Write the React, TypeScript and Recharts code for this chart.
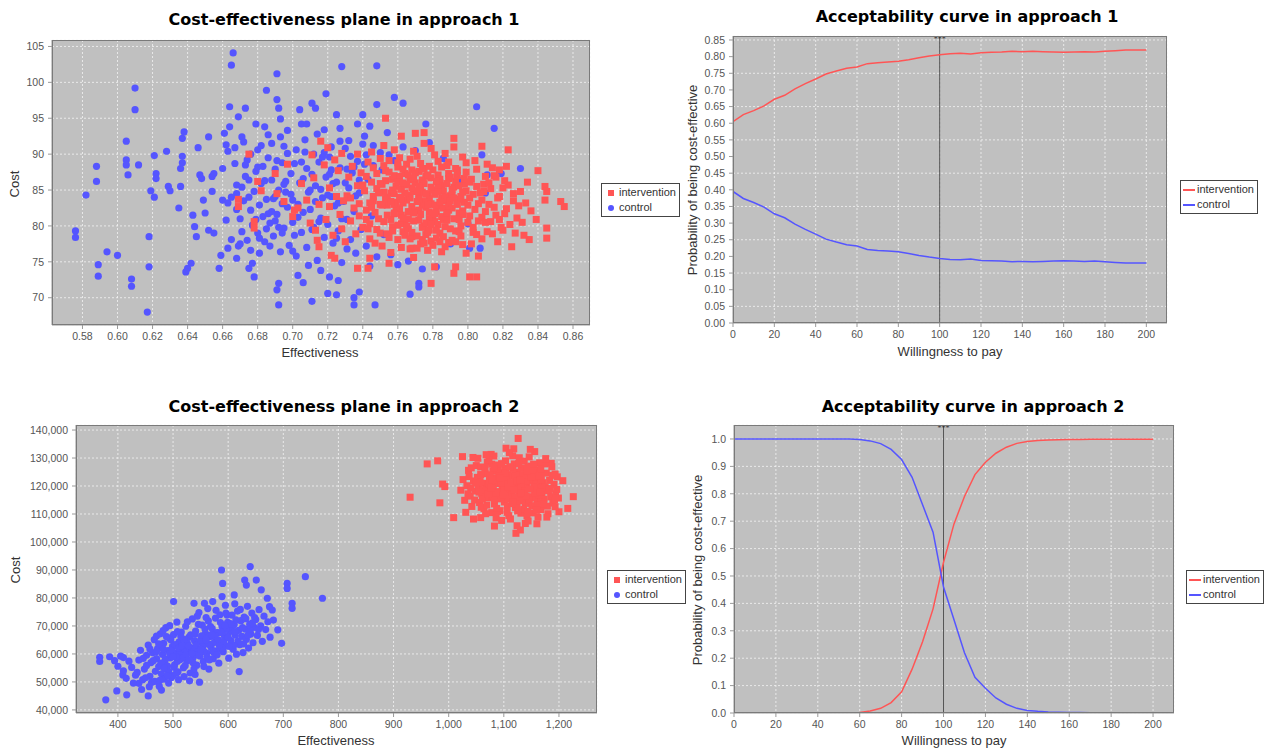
import React from 'react';
import { ScatterChart, Scatter, LineChart, Line, XAxis, YAxis, CartesianGrid, ReferenceLine } from 'recharts';

type Pt = [number, number];

const RED = '#ff5555';
const BLUE = '#5555ff';
const PLOT_BG = '#c0c0c0';
const TICK_FONT = '"Liberation Sans", Arial, sans-serif';
const TITLE_FONT = '"DejaVu Sans", Verdana, sans-serif';

// --- approach 1: cost-effectiveness plane (effectiveness, cost) ---
const plane1Control: Pt[] = [
  [0.576, 79.3], [0.576, 78.4], [0.582, 84.3], [0.588, 88.3], [0.588, 86.2], [0.589, 74.6], [0.589, 73.0], [0.594, 76.4],
  [0.600, 75.9], [0.605, 91.8], [0.605, 89.2], [0.605, 88.5], [0.606, 87.1], [0.610, 99.2], [0.610, 96.2], [0.612, 88.5],
  [0.608, 72.6], [0.608, 71.6], [0.618, 78.5], [0.618, 74.3], [0.617, 68.0], [0.619, 84.9], [0.621, 84.0], [0.621, 89.8],
  [0.622, 87.3], [0.622, 86.6], [0.628, 90.4], [0.629, 85.5], [0.630, 84.9], [0.635, 82.5], [0.636, 85.5], [0.636, 88.0],
  [0.637, 88.8], [0.637, 89.7], [0.637, 92.2], [0.638, 93.1], [0.640, 74.1], [0.642, 74.8], [0.639, 73.6], [0.643, 81.5],
  [0.644, 79.9], [0.645, 78.5], [0.646, 90.9], [0.647, 87.1], [0.648, 86.6], [0.649, 83.6], [0.650, 81.8], [0.652, 92.4],
  [0.652, 79.4], [0.654, 84.8], [0.654, 86.9], [0.655, 87.3], [0.655, 79.0], [0.658, 74.1], [0.659, 75.9], [0.660, 83.6],
  [0.661, 92.9], [0.662, 91.3], [0.663, 90.4], [0.663, 83.2], [0.663, 76.9], [0.664, 96.6], [0.666, 104.1], [0.665, 102.4],
  [0.664, 93.8], [0.667, 88.7], [0.668, 85.7], [0.668, 84.5], [0.668, 75.5], [0.669, 95.2], [0.673, 96.4], [0.671, 92.4],
  [0.674, 89.2], [0.675, 86.4], [0.675, 74.1], [0.677, 74.8], [0.678, 72.9], [0.679, 94.2], [0.681, 76.2], [0.684, 93.8],
  [0.685, 98.9], [0.686, 92.7], [0.688, 86.4], [0.690, 84.1], [0.691, 101.2], [0.691, 97.6], [0.692, 96.4], [0.693, 94.9],
  [0.692, 72.0], [0.692, 69.0], [0.691, 71.1], [0.693, 92.4], [0.695, 91.1], [0.697, 90.1], [0.704, 96.2], [0.705, 94.2],
  [0.708, 94.2], [0.706, 72.1], [0.711, 97.1], [0.713, 96.4], [0.711, 69.5], [0.718, 93.4], [0.719, 98.4], [0.720, 70.6],
  [0.721, 72.9], [0.725, 95.5], [0.725, 70.4], [0.726, 72.4], [0.728, 102.2], [0.727, 91.8], [0.735, 69.0], [0.735, 70.0],
  [0.738, 70.8], [0.737, 94.2], [0.740, 95.5], [0.741, 92.5], [0.744, 93.9], [0.748, 102.3], [0.748, 96.9], [0.747, 69.0],
  [0.758, 97.9], [0.763, 97.1], [0.767, 70.5], [0.772, 72.0], [0.772, 71.5], [0.776, 94.2], [0.805, 96.6], [0.815, 93.6],
  [0.808, 89.9], [0.811, 87.1], [0.810, 84.6], [0.819, 87.3], [0.830, 88.0], [0.801, 76.9], [0.807, 76.9],
  [0.670, 81.0], [0.671, 79.2], [0.672, 83.5], [0.673, 86.9], [0.674, 78.0], [0.676, 82.2], [0.677, 80.1], [0.678, 84.8],
  [0.679, 87.6], [0.680, 79.0], [0.681, 82.9], [0.682, 85.9], [0.683, 81.3], [0.684, 77.8], [0.685, 83.7], [0.686, 89.5],
  [0.687, 80.4], [0.688, 82.0], [0.689, 78.6], [0.690, 87.9], [0.691, 81.6], [0.692, 85.0], [0.693, 76.4], [0.694, 83.1],
  [0.695, 79.7], [0.696, 86.2], [0.697, 82.6], [0.698, 77.3], [0.699, 84.4], [0.700, 80.5], [0.701, 88.7], [0.702, 75.8],
  [0.703, 83.0], [0.704, 86.0], [0.705, 79.1], [0.706, 81.9], [0.707, 90.3], [0.708, 77.0], [0.709, 84.7], [0.710, 82.3],
  [0.711, 87.2], [0.712, 79.8], [0.713, 85.6], [0.714, 75.2], [0.715, 88.9], [0.716, 81.1], [0.717, 83.9], [0.718, 78.4],
  [0.719, 86.8], [0.720, 80.2], [0.721, 89.6], [0.722, 84.1], [0.723, 77.6], [0.724, 82.8], [0.725, 86.1], [0.726, 79.3],
  [0.727, 88.1], [0.728, 74.9], [0.729, 83.4], [0.730, 90.8], [0.731, 80.9], [0.732, 85.3], [0.733, 78.1], [0.734, 87.4],
  [0.735, 82.0], [0.736, 76.2], [0.737, 89.0], [0.738, 84.6], [0.739, 79.5], [0.740, 91.4], [0.742, 77.2], [0.743, 86.5],
  [0.745, 81.4], [0.746, 88.4], [0.748, 75.7], [0.750, 90.2], [0.752, 78.8], [0.754, 93.0], [0.756, 76.0], [0.758, 89.1],
  [0.760, 74.6], [0.763, 91.0], [0.766, 75.1], [0.770, 90.5], [0.774, 74.0], [0.778, 91.6], [0.782, 74.3], [0.786, 89.4],
  [0.790, 77.5], [0.795, 86.3], [0.800, 80.3], [0.660, 88.0], [0.662, 80.8], [0.665, 78.1], [0.667, 90.9], [0.669, 77.2],
  [0.672, 91.7], [0.676, 76.6], [0.680, 90.6], [0.683, 88.3], [0.688, 91.5], [0.694, 88.8], [0.700, 76.5], [0.703, 73.1],
  [0.709, 74.5], [0.714, 92.8], [0.716, 73.8], [0.722, 91.0], [0.731, 76.8], [0.744, 74.4],
  [0.668, 82.3], [0.673, 88.5], [0.679, 80.9], [0.684, 86.3], [0.689, 83.8], [0.694, 79.0], [0.699, 87.3], [0.703, 81.2],
  [0.708, 88.0], [0.713, 83.4], [0.718, 90.2], [0.723, 85.9], [0.728, 81.0], [0.733, 89.7], [0.738, 86.4], [0.671, 85.4],
  [0.676, 90.0], [0.681, 78.3], [0.686, 81.7], [0.691, 89.1], [0.696, 84.7], [0.701, 78.7], [0.706, 86.6], [0.711, 79.5],
  [0.716, 85.1], [0.721, 87.2], [0.726, 83.2], [0.731, 87.9], [0.736, 84.2], [0.741, 88.6], [0.665, 84.0], [0.670, 77.5],
  [0.675, 84.0], [0.680, 88.2], [0.685, 79.6], [0.690, 80.7], [0.695, 85.8], [0.700, 83.6], [0.705, 88.9], [0.710, 85.0],
  [0.715, 80.6], [0.720, 84.3], [0.725, 78.3], [0.730, 86.0], [0.735, 88.2], [0.687, 77.2], [0.697, 93.3], [0.707, 92.0],
  [0.717, 89.6], [0.727, 93.6], [0.682, 91.2], [0.692, 79.8], [0.702, 90.6], [0.712, 90.0], [0.722, 87.8], [0.732, 91.9],
  [0.742, 89.9], [0.746, 91.2], [0.751, 87.8], [0.755, 89.9],
];

const plane1Intervention: Pt[] = [
  [0.675, 90.0], [0.669, 83.7], [0.669, 82.7], [0.680, 86.2], [0.682, 84.9], [0.678, 80.6], [0.678, 79.7], [0.690, 87.3],
  [0.691, 84.5], [0.697, 88.6], [0.695, 83.4], [0.701, 82.2], [0.703, 82.5], [0.700, 81.3], [0.708, 83.6], [0.711, 89.9],
  [0.713, 79.4], [0.716, 91.8], [0.714, 78.0], [0.715, 77.1], [0.720, 90.9], [0.721, 82.7], [0.722, 75.9], [0.724, 75.5],
  [0.728, 90.1], [0.737, 90.0], [0.737, 74.1], [0.743, 74.1], [0.744, 75.5], [0.753, 95.0], [0.755, 74.8], [0.762, 92.5],
  [0.758, 90.6], [0.770, 92.9], [0.775, 93.0], [0.768, 76.9], [0.769, 75.6], [0.779, 72.0], [0.781, 74.3], [0.792, 92.2],
  [0.792, 73.4], [0.793, 74.3], [0.801, 72.9], [0.805, 72.9], [0.806, 75.8], [0.808, 91.1], [0.823, 90.6], [0.822, 88.3],
  [0.818, 87.8], [0.826, 84.5], [0.830, 84.8], [0.840, 87.7], [0.844, 85.5], [0.845, 84.8], [0.844, 83.6], [0.845, 79.7],
  [0.845, 78.3], [0.835, 78.1], [0.832, 78.7], [0.825, 77.1], [0.853, 83.4], [0.855, 82.7], [0.839, 80.9], [0.836, 82.1],
  [0.813, 80.6], [0.820, 79.4],
  [0.731, 84.2], [0.732, 86.8], [0.733, 80.7], [0.734, 88.3], [0.735, 82.5], [0.736, 78.9], [0.737, 85.6], [0.738, 83.1],
  [0.739, 87.4], [0.740, 79.8], [0.733, 83.9], [0.738, 81.4],
  [0.741, 84.9], [0.742, 82.2], [0.743, 88.9], [0.744, 80.3], [0.745, 86.1], [0.746, 83.5], [0.747, 77.6], [0.748, 85.2],
  [0.749, 81.0], [0.750, 89.4], [0.742, 86.9], [0.744, 78.2], [0.746, 84.1], [0.748, 79.5], [0.750, 83.0], [0.745, 90.3],
  [0.751, 85.8], [0.752, 80.6], [0.753, 87.7], [0.754, 82.9], [0.755, 78.4], [0.756, 84.6], [0.757, 86.5], [0.758, 81.7],
  [0.759, 83.3], [0.760, 88.2], [0.751, 77.2], [0.753, 83.8], [0.755, 89.1], [0.757, 79.9], [0.759, 85.5], [0.752, 91.2],
  [0.756, 76.3], [0.758, 87.0], [0.760, 80.1], [0.754, 84.0],
  [0.761, 82.4], [0.762, 85.1], [0.763, 79.2], [0.764, 87.3], [0.765, 83.6], [0.766, 81.0], [0.767, 86.4], [0.768, 78.5],
  [0.769, 84.8], [0.770, 82.1], [0.761, 89.5], [0.762, 77.0], [0.763, 83.2], [0.764, 80.4], [0.765, 88.6], [0.766, 84.3],
  [0.767, 76.8], [0.768, 82.7], [0.769, 90.4], [0.770, 86.0], [0.762, 81.5], [0.764, 85.7], [0.766, 79.6], [0.768, 87.8],
  [0.771, 83.4], [0.772, 80.8], [0.773, 85.3], [0.774, 78.1], [0.775, 88.0], [0.776, 82.6], [0.777, 84.5], [0.778, 79.4],
  [0.779, 86.7], [0.780, 81.2], [0.771, 89.7], [0.772, 84.1], [0.773, 77.5], [0.774, 82.9], [0.775, 80.0], [0.776, 86.9],
  [0.777, 76.6], [0.778, 83.8], [0.779, 90.8], [0.780, 85.0], [0.772, 87.6], [0.774, 84.7], [0.776, 78.8], [0.778, 81.9],
  [0.775, 91.5], [0.779, 77.9],
  [0.781, 84.4], [0.782, 82.0], [0.783, 87.1], [0.784, 79.0], [0.785, 85.6], [0.786, 80.9], [0.787, 83.5], [0.788, 88.4],
  [0.789, 77.7], [0.790, 84.2], [0.781, 89.9], [0.782, 78.3], [0.783, 82.8], [0.784, 86.0], [0.785, 76.4], [0.786, 84.9],
  [0.787, 90.1], [0.788, 81.4], [0.789, 83.0], [0.790, 79.6], [0.783, 80.2], [0.785, 83.9], [0.787, 77.1], [0.789, 86.6],
  [0.791, 82.5], [0.792, 85.4], [0.793, 79.3], [0.794, 87.8], [0.795, 81.8], [0.796, 84.1], [0.797, 77.4], [0.798, 83.3],
  [0.799, 88.8], [0.800, 80.5], [0.791, 78.0], [0.793, 86.2], [0.795, 83.7], [0.797, 89.6], [0.799, 76.2], [0.792, 91.0],
  [0.796, 80.0], [0.798, 85.9],
  [0.801, 83.9], [0.802, 86.5], [0.803, 79.1], [0.804, 82.3], [0.805, 87.9], [0.806, 80.7], [0.807, 84.6], [0.808, 78.2],
  [0.809, 85.8], [0.810, 82.0], [0.802, 77.5], [0.804, 89.1], [0.806, 83.1], [0.808, 81.2], [0.810, 86.9],
  [0.812, 83.0], [0.813, 85.2], [0.814, 78.9], [0.815, 87.0], [0.816, 81.5], [0.818, 84.1], [0.819, 79.8], [0.821, 86.3],
  [0.822, 82.4], [0.824, 80.2], [0.826, 83.5], [0.828, 81.1], [0.811, 88.6], [0.817, 77.8], [0.823, 85.7], [0.827, 79.0],
  [0.829, 82.8], [0.831, 80.5], [0.833, 83.2], [0.834, 86.1],
  [0.705, 85.9], [0.710, 80.4], [0.712, 86.7], [0.715, 83.0], [0.718, 88.5], [0.719, 80.9], [0.721, 85.3], [0.723, 78.7],
  [0.725, 84.1], [0.726, 87.7], [0.727, 81.6], [0.729, 83.5], [0.730, 77.8], [0.724, 89.2], [0.728, 79.6],
  [0.747, 81.9], [0.761, 86.9], [0.783, 84.8], [0.795, 79.2], [0.772, 82.2], [0.756, 80.9], [0.789, 87.3], [0.768, 85.3],
  [0.779, 83.1], [0.801, 81.4], [0.752, 84.7], [0.764, 78.7], [0.786, 82.5], [0.774, 86.4], [0.791, 84.3], [0.759, 82.6],
  [0.781, 80.6], [0.798, 86.6], [0.767, 83.9], [0.744, 83.2], [0.777, 79.1], [0.788, 85.9], [0.763, 87.9], [0.750, 79.0],
  [0.794, 83.0], [0.771, 84.9], [0.784, 77.8], [0.757, 85.0], [0.803, 84.4], [0.769, 80.7], [0.780, 87.8], [0.792, 81.0],
  [0.748, 87.3], [0.775, 83.4], [0.762, 83.7], [0.787, 79.9], [0.754, 81.5], [0.797, 82.1], [0.773, 88.7], [0.783, 85.7],
  [0.766, 82.0], [0.790, 86.8], [0.778, 81.0], [0.760, 78.1], [0.805, 85.5], [0.771, 78.6], [0.785, 88.2], [0.753, 86.3],
  [0.796, 78.6], [0.765, 85.8], [0.776, 84.4], [0.781, 82.9], [0.742, 80.9], [0.799, 84.9], [0.770, 87.4], [0.758, 83.0],
  [0.788, 80.8], [0.774, 79.8], [0.793, 88.0], [0.762, 80.3], [0.779, 85.4], [0.749, 84.6], [0.786, 83.7], [0.767, 89.3],
  [0.800, 82.9], [0.755, 87.5], [0.782, 79.4], [0.773, 81.6], [0.791, 85.1], [0.764, 84.6], [0.777, 87.1], [0.745, 82.6],
  [0.795, 80.9], [0.769, 81.8], [0.784, 86.5], [0.757, 79.3], [0.803, 79.8], [0.775, 85.9], [0.760, 86.1], [0.789, 82.2],
  [0.751, 82.9], [0.780, 77.3], [0.766, 87.1], [0.797, 84.7], [0.772, 83.8], [0.785, 81.3], [0.758, 84.5], [0.794, 87.0],
  [0.763, 81.1], [0.778, 88.3], [0.740, 85.7], [0.808, 83.6], [0.771, 76.9], [0.787, 84.0], [0.754, 78.9], [0.799, 87.5],
  [0.765, 80.0], [0.782, 86.2], [0.746, 88.1], [0.793, 77.8], [0.810, 80.5], [0.776, 80.4], [0.761, 84.0], [0.790, 83.5],
  [0.768, 79.1], [0.784, 83.3], [0.750, 85.9], [0.801, 86.1], [0.774, 87.9], [0.758, 81.8], [0.786, 78.5], [0.769, 86.7],
  [0.795, 85.6], [0.781, 81.7], [0.763, 86.0], [0.777, 82.9], [0.743, 79.6], [0.805, 78.8], [0.772, 85.5], [0.789, 88.9],
  [0.756, 83.4], [0.797, 81.6], [0.767, 78.2], [0.783, 89.0], [0.752, 88.4], [0.779, 80.2], [0.792, 83.9], [0.760, 88.8],
  [0.775, 77.6], [0.788, 81.8], [0.812, 86.0], [0.815, 82.6], [0.818, 80.9], [0.809, 84.8], [0.814, 88.1], [0.817, 83.9],
  [0.820, 85.3], [0.821, 81.7], [0.811, 79.2], [0.816, 86.8],
];

// --- approach 2: cost-effectiveness plane ---
const plane2Control: Pt[] = [
  [367, 58800], [367, 57300], [378, 43600], [385, 59000], [394, 57600], [398, 46800], [409, 52500], [410, 58700],
  [416, 45400], [455, 45000], [479, 47100], [501, 78700], [588, 90000], [590, 85200], [640, 91200], [630, 86400],
  [633, 84600], [651, 86400], [660, 82900], [671, 79900], [675, 76900], [697, 63800], [707, 85200], [707, 83400],
  [716, 78100], [716, 76300], [740, 87600], [771, 79900], [620, 53700], [690, 68600], [682, 72100], [680, 75700],
  [572, 78700], [557, 78100], [538, 78100], [611, 81100], [589, 80500], [438, 49500], [457, 48300],
  [425, 55200], [432, 52400], [438, 57800], [441, 61300], [445, 50800], [448, 54600], [452, 59500], [455, 63200],
  [458, 52000], [460, 56900], [463, 60400], [466, 65100], [468, 53800], [470, 58300],
  [472, 61900], [474, 55500], [477, 67200], [479, 52900], [481, 59800], [483, 63800], [485, 57100], [487, 69400],
  [489, 54400], [491, 61200], [493, 65700], [495, 58600], [497, 51600], [499, 62700], [501, 66900], [503, 56200],
  [505, 60100], [507, 71400], [509, 53600], [511, 64300], [513, 58000], [515, 67800], [517, 61600], [519, 55100],
  [521, 63000], [523, 69900], [525, 57500], [527, 60700], [529, 66000], [531, 53200], [533, 62200], [535, 72500],
  [537, 58900], [539, 64700], [541, 68200], [543, 56000], [545, 61500], [547, 74800], [549, 59200], [551, 65400],
  [553, 70300], [555, 57300], [557, 63500], [559, 67300], [561, 60300], [563, 76200], [565, 54600], [567, 66100],
  [569, 62400],
  [571, 69100], [573, 58300], [575, 64100], [577, 72800], [579, 61100], [581, 67600], [583, 56700], [585, 74000],
  [587, 63700], [589, 69800], [591, 60800], [593, 66500], [595, 77400], [597, 62900], [599, 71300], [601, 58500],
  [603, 68000], [605, 64800], [607, 73900], [609, 61700], [611, 70500], [613, 66700], [615, 59900], [617, 75300],
  [619, 68400],
  [621, 63300], [623, 71900], [625, 66300], [627, 60500], [629, 73200], [631, 68900], [633, 65200], [635, 77000],
  [637, 62100], [639, 70600], [641, 67100], [643, 74600], [645, 64000], [647, 69500], [650, 72300], [653, 66600],
  [656, 75800], [659, 70000], [662, 64500], [665, 73500], [668, 68700], [672, 71500], [676, 66000],
  [400, 55600], [405, 59200], [410, 54000], [415, 51300], [420, 57400], [428, 49600], [435, 53400], [443, 47300],
  [450, 51500], [461, 49800], [467, 50200], [475, 48500], [484, 51000], [492, 49600], [500, 52300], [510, 50800],
  [520, 51900], [530, 50400], [540, 52700], [548, 49900],
  [486, 58100], [498, 61500], [512, 60300], [526, 63900], [538, 61800], [552, 66500], [566, 63400], [578, 67500],
  [592, 64600], [606, 69600], [490, 55700], [504, 63300], [518, 58700], [532, 66800], [544, 59800], [558, 68900],
  [572, 61000], [586, 71200], [600, 65900], [614, 72200], [494, 60000], [508, 57400], [522, 61100], [536, 56900],
  [548, 64400], [562, 58800], [576, 66300], [590, 62000], [604, 70800], [618, 64600], [482, 61800], [496, 65100],
  [510, 62100], [524, 59800], [540, 67000], [554, 62600], [568, 69800], [582, 65000], [596, 68800], [610, 63100],
  [478, 56700], [492, 53700], [506, 58900], [520, 65200], [534, 60100], [546, 70600], [560, 65000], [574, 60600],
  [588, 67700], [602, 62700], [470, 60900], [484, 54900], [502, 55200], [516, 62900], [530, 57900], [542, 63100],
  [556, 60900], [570, 66900], [584, 63000], [598, 73900], [612, 68000], [626, 69400], [632, 72600], [640, 68300],
  [648, 73000], [622, 75900], [628, 63600], [636, 66700], [644, 71100], [655, 68700], [464, 57600], [474, 63600],
  [488, 66200], [500, 59000], [514, 66400], [528, 62900], [550, 61600], [564, 71800], [580, 59700], [594, 70200],
  [452, 55900], [446, 58400], [458, 61800], [476, 50600], [490, 52200], [506, 53100], [522, 55800], [538, 54700],
  [556, 55500], [566, 57900], [470, 66400], [482, 68300], [494, 70100], [508, 68000], [526, 71500], [544, 73500],
  [560, 73000], [578, 75600], [596, 74600], [612, 77900],
];

const plane2Intervention: Pt[] = [
  [930, 116000], [961, 127900], [980, 129000], [984, 114000], [989, 120700], [993, 119800], [1009, 108700], [1045, 108200],
  [1058, 108700], [1083, 105700], [1122, 103100], [1130, 104300], [1126, 137000], [1104, 133500], [1156, 132300],
  [1174, 127900], [1207, 121900], [1193, 124300], [1226, 116200], [1216, 112000], [1200, 110800], [1193, 112600],
  [1178, 118600], [1025, 130500],
  [1022, 118500], [1026, 122300], [1029, 114900], [1033, 120100], [1036, 125600], [1039, 116400], [1042, 112700],
  [1045, 121800], [1048, 118200], [1050, 127300], [1031, 110600], [1044, 130200], [1047, 115000],
  [1052, 123100], [1054, 119500], [1056, 114100], [1058, 126800], [1060, 117300], [1062, 121000], [1064, 111900],
  [1066, 124400], [1068, 119000], [1070, 128600], [1072, 115800], [1074, 122500], [1076, 117700], [1078, 110500],
  [1080, 125300], [1053, 129900], [1059, 112400], [1065, 116000], [1071, 120500], [1077, 131300],
  [1081, 119800], [1083, 113600], [1085, 122900], [1087, 127500], [1089, 116800], [1091, 120900], [1093, 111200],
  [1095, 124700], [1097, 118400], [1099, 122000], [1101, 114300], [1103, 129000], [1105, 117100], [1107, 121500],
  [1109, 109400], [1082, 130700], [1086, 108600], [1090, 125800], [1094, 115400], [1098, 119900], [1102, 126300],
  [1106, 112900], [1108, 124000], [1100, 121100],
  [1111, 118100], [1113, 123600], [1115, 115900], [1117, 120700], [1119, 127900], [1121, 112300], [1123, 119400],
  [1125, 125000], [1127, 116600], [1129, 121900], [1131, 110300], [1133, 123200], [1135, 117800], [1137, 128900],
  [1139, 114000], [1112, 108200], [1116, 130800], [1120, 121300], [1124, 113100], [1128, 119100], [1132, 126400],
  [1136, 111700], [1138, 120300], [1114, 116700], [1126, 122700], [1134, 115200],
  [1141, 119600], [1143, 124200], [1145, 113800], [1147, 121700], [1149, 127100], [1151, 116200], [1153, 110400],
  [1155, 122400], [1157, 118800], [1159, 125700], [1161, 114600], [1163, 120200], [1165, 128300], [1167, 111600],
  [1169, 117500], [1142, 109300], [1146, 130400], [1150, 119000], [1154, 115700], [1158, 122900], [1162, 108900],
  [1166, 124700],
  [1171, 121200], [1173, 115300], [1175, 119700], [1177, 124600], [1179, 112800], [1181, 118300], [1183, 122000],
  [1185, 116100], [1187, 126900], [1189, 113900], [1191, 120600], [1194, 117200], [1197, 123300], [1199, 115700],
  [1063, 118700], [1088, 121600], [1112, 119300], [1137, 117000], [1158, 120800], [1075, 124000], [1097, 115900],
  [1121, 123800], [1146, 115100], [1168, 122300], [1069, 113200], [1092, 118000], [1116, 126000], [1141, 121900],
  [1163, 116900], [1057, 121600], [1080, 116500], [1104, 123100], [1128, 114700], [1152, 125200], [1066, 126300],
  [1089, 110900], [1113, 121200], [1138, 118200], [1160, 113100], [1074, 120700], [1096, 128000], [1120, 116100],
  [1144, 126700], [1170, 119300], [1061, 115500], [1085, 117600], [1108, 115400], [1132, 120900], [1156, 117400],
  [1078, 127800], [1101, 119000], [1125, 111100], [1149, 123300], [1172, 113700], [1055, 117800], [1079, 122000],
  [1103, 124600], [1127, 128000], [1151, 112900], [1067, 110100], [1091, 123700], [1115, 113700], [1140, 116300],
  [1164, 123600], [1083, 115000], [1107, 119700], [1131, 117500], [1155, 119600], [1071, 117100], [1095, 121200],
  [1119, 118700], [1143, 110900], [1167, 126200], [1087, 112000], [1111, 126900], [1135, 124100], [1159, 111300],
  [1077, 119200], [1099, 116800], [1123, 121800], [1147, 118900], [1058, 124100], [1082, 126300], [1106, 110600],
  [1130, 122300], [1154, 127800], [1073, 129400], [1093, 122700], [1117, 114400], [1142, 125400], [1165, 118000],
  [1049, 121000], [1040, 119300], [1037, 123400], [1041, 126500], [1035, 117200], [1184, 119100], [1188, 123800],
  [1192, 115000], [1180, 110100], [1186, 128100], [1196, 118800], [1176, 129800], [1178, 108900], [1118, 133300],
  [1110, 131900], [1148, 133100], [1096, 107700], [1139, 106600], [1124, 105800], [1160, 106500], [1068, 131200],
  [1128, 130100], [1144, 107500],
];

// --- acceptability curves (willingness to pay -> probability) ---
const wtp = [
  0, 5, 10, 15, 20, 25, 30, 35, 40, 45, 50, 55, 60, 65, 70, 75, 80, 85, 90, 95, 100,
  105, 110, 115, 120, 125, 130, 135, 140, 145, 150, 155, 160, 165, 170, 175, 180, 185, 190, 195, 200,
];
const accept1Intervention = [
  0.605, 0.626, 0.638, 0.652, 0.672, 0.684, 0.703, 0.719, 0.733, 0.748, 0.757, 0.765, 0.769, 0.779, 0.782, 0.784, 0.786,
  0.791, 0.797, 0.802, 0.806, 0.809, 0.810, 0.808, 0.812, 0.813, 0.814, 0.816, 0.815, 0.816, 0.815, 0.814, 0.813, 0.814,
  0.815, 0.814, 0.816, 0.818, 0.820, 0.820, 0.820,
];
const accept1Control = [
  0.395, 0.374, 0.362, 0.348, 0.328, 0.316, 0.297, 0.281, 0.267, 0.252, 0.243, 0.235, 0.231, 0.221, 0.218, 0.216, 0.214,
  0.209, 0.203, 0.198, 0.194, 0.191, 0.190, 0.192, 0.188, 0.187, 0.186, 0.184, 0.185, 0.184, 0.185, 0.186, 0.187, 0.186,
  0.185, 0.186, 0.184, 0.182, 0.180, 0.180, 0.180,
];
const accept2Intervention = [
  0, 0, 0, 0, 0, 0, 0, 0, 0, 0, 0, 0, 0.002, 0.007, 0.017, 0.038, 0.077, 0.16, 0.26, 0.38, 0.55,
  0.69, 0.79, 0.87, 0.915, 0.948, 0.97, 0.984, 0.991, 0.994, 0.996, 0.997, 0.998, 0.998, 0.999, 0.999, 0.999, 0.999,
  0.999, 0.999, 0.999,
];
const accept2Control = [
  1, 1, 1, 1, 1, 1, 1, 1, 1, 1, 1, 1, 0.998, 0.993, 0.983, 0.962, 0.925, 0.86, 0.76, 0.66, 0.46,
  0.34, 0.22, 0.13, 0.09, 0.055, 0.032, 0.017, 0.009, 0.006, 0.004, 0.003, 0.002, 0.002, 0.001, 0.001, 0.001, 0.001,
  0.001, 0.001, 0.001,
];

// tick labels
const eff1Ticks = [0.58, 0.6, 0.62, 0.64, 0.66, 0.68, 0.7, 0.72, 0.74, 0.76, 0.78, 0.8, 0.82, 0.84, 0.86];
const cost1Ticks = [70, 75, 80, 85, 90, 95, 100, 105];
const eff2Ticks = [400, 500, 600, 700, 800, 900, 1000, 1100, 1200];
const cost2Ticks = [40000, 50000, 60000, 70000, 80000, 90000, 100000, 110000, 120000, 130000, 140000];
const wtpTicks = [0, 20, 40, 60, 80, 100, 120, 140, 160, 180, 200];
const prob1Ticks = [0, 0.05, 0.1, 0.15, 0.2, 0.25, 0.3, 0.35, 0.4, 0.45, 0.5, 0.55, 0.6, 0.65, 0.7, 0.75, 0.8, 0.85];
const prob2Ticks = [0, 0.1, 0.2, 0.3, 0.4, 0.5, 0.6, 0.7, 0.8, 0.9, 1.0];

const toPoints = (pts: Pt[]) => pts.map(([x, y]) => ({ x, y }));
const curveRows = (xs: number[], a: number[], b: number[]) =>
  xs.map((w, i) => ({ wtp: w, intervention: a[i], control: b[i] }));

// plot rectangles on the page (left, top, right, bottom)
type Rect = { l: number; t: number; r: number; b: number };
const PLOT_A: Rect = { l: 52, t: 40, r: 590, b: 325 };
const PLOT_B: Rect = { l: 733, t: 36, r: 1167, b: 323 };
const PLOT_C: Rect = { l: 76, t: 425, r: 597, b: 713 };
const PLOT_D: Rect = { l: 734, t: 425, r: 1174, b: 713 };

const YW = 70;
const XH = 30;
const PAD = 12;

const tickStyle = { fontSize: 10.5, fill: '#555', fontFamily: TICK_FONT };

const boxFor = (p: Rect) => ({
  left: p.l - YW,
  top: p.t - PAD,
  width: p.r - p.l + YW + 10,
  height: p.b - p.t + PAD + XH,
});

const squareShape = (props: any) => (
  <rect x={props.cx - 3.5} y={props.cy - 3.5} width={7} height={7} fill={RED} />
);
const circleShape = (props: any) => <circle cx={props.cx} cy={props.cy} r={3.6} fill={BLUE} />;

const Title = ({ x, y, text }: { x: number; y: number; text: string }) => (
  <div
    style={{
      position: 'absolute', left: x - 250, top: y - 10, width: 500, textAlign: 'center',
      fontFamily: TITLE_FONT, fontWeight: 'bold', fontSize: 16, color: '#000', lineHeight: '20px',
    }}
  >
    {text}
  </div>
);

const AxisLabel = ({ x, y, text, rotate }: { x: number; y: number; text: string; rotate?: boolean }) => (
  <div
    style={{
      position: 'absolute', left: x - 150, top: y - 8, width: 300, textAlign: 'center', lineHeight: '16px',
      fontFamily: TICK_FONT, fontSize: 13, color: '#333',
      transform: rotate ? 'rotate(-90deg)' : undefined,
    }}
  >
    {text}
  </div>
);

const Frame = ({ p }: { p: Rect }) => (
  <div
    style={{
      position: 'absolute', left: p.l, top: p.t, width: p.r - p.l, height: p.b - p.t,
      border: '1px solid #7a7a7a', boxSizing: 'border-box', pointerEvents: 'none',
    }}
  />
);

const ScatterLegend = ({ left, top }: { left: number; top: number }) => (
  <div
    style={{
      position: 'absolute', left, top, width: 79, height: 34, border: '1px solid #444', background: '#fff',
      boxSizing: 'border-box', fontFamily: TICK_FONT, fontSize: 11, color: '#333',
    }}
  >
    <div style={{ position: 'absolute', left: 6, top: 6, width: 6, height: 6, background: RED }} />
    <div style={{ position: 'absolute', left: 17, top: 2, lineHeight: '13px' }}>intervention</div>
    <div style={{ position: 'absolute', left: 6, top: 21, width: 6, height: 6, background: BLUE, borderRadius: 3 }} />
    <div style={{ position: 'absolute', left: 17, top: 17, lineHeight: '13px' }}>control</div>
  </div>
);

const LineLegend = ({ left, top }: { left: number; top: number }) => (
  <div
    style={{
      position: 'absolute', left, top, width: 78, height: 34, border: '1px solid #444', background: '#fff',
      boxSizing: 'border-box', fontFamily: TICK_FONT, fontSize: 11, color: '#333',
    }}
  >
    <div style={{ position: 'absolute', left: 2, top: 8, width: 12, height: 2, background: RED }} />
    <div style={{ position: 'absolute', left: 16, top: 2, lineHeight: '13px' }}>intervention</div>
    <div style={{ position: 'absolute', left: 2, top: 23, width: 12, height: 2, background: BLUE }} />
    <div style={{ position: 'absolute', left: 16, top: 17, lineHeight: '13px' }}>control</div>
  </div>
);

const gridProps = { fill: PLOT_BG, fillOpacity: 1, stroke: '#f4f4f4', strokeDasharray: '2 2', strokeWidth: 0.8 };
const axisCommon = {
  tick: tickStyle,
  tickSize: 4,
  tickMargin: 4,
  axisLine: { stroke: '#999' },
  tickLine: { stroke: '#999' },
  allowDataOverflow: true,
};

const PlaneChart = ({
  p, control, intervention, xDomain, yDomain, xTicks, yTicks, xFmt, yFmt,
}: {
  p: Rect; control: Pt[]; intervention: Pt[]; xDomain: [number, number]; yDomain: [number, number];
  xTicks: number[]; yTicks: number[]; xFmt: (v: number) => string; yFmt: (v: number) => string;
}) => {
  const box = boxFor(p);
  return (
    <div style={{ position: 'absolute', left: box.left, top: box.top }}>
      <ScatterChart width={box.width} height={box.height} margin={{ top: PAD, right: 10, bottom: 0, left: 0 }}>
        <CartesianGrid {...gridProps} />
        <XAxis type="number" dataKey="x" domain={xDomain} ticks={xTicks} tickFormatter={xFmt} height={XH} {...axisCommon} />
        <YAxis type="number" dataKey="y" domain={yDomain} ticks={yTicks} tickFormatter={yFmt} width={YW} {...axisCommon} />
        <Scatter name="control" data={toPoints(control)} shape={circleShape} isAnimationActive={false} />
        <Scatter name="intervention" data={toPoints(intervention)} shape={squareShape} isAnimationActive={false} />
      </ScatterChart>
    </div>
  );
};

const CurveChart = ({
  p, interv, ctrl, yDomain, yTicks, yFmt,
}: {
  p: Rect; interv: number[]; ctrl: number[]; yDomain: [number, number]; yTicks: number[]; yFmt: (v: number) => string;
}) => {
  const box = boxFor(p);
  return (
    <div style={{ position: 'absolute', left: box.left, top: box.top }}>
      <LineChart
        width={box.width}
        height={box.height}
        data={curveRows(wtp, interv, ctrl)}
        margin={{ top: PAD, right: 10, bottom: 0, left: 0 }}
      >
        <CartesianGrid {...gridProps} />
        <XAxis type="number" dataKey="wtp" domain={[0, 210]} ticks={wtpTicks} height={XH} {...axisCommon} />
        <YAxis type="number" domain={yDomain} ticks={yTicks} tickFormatter={yFmt} width={YW} {...axisCommon} />
        <ReferenceLine
          x={100}
          stroke="#555"
          strokeWidth={1}
          label={{ value: '***', position: 'top', offset: -6, fontSize: 8, fill: '#333' }}
        />
        <Line type="linear" dataKey="intervention" stroke={RED} strokeWidth={1.5} dot={false} isAnimationActive={false} />
        <Line type="linear" dataKey="control" stroke={BLUE} strokeWidth={1.5} dot={false} isAnimationActive={false} />
      </LineChart>
    </div>
  );
};

export default function App() {
  return (
    <div style={{ position: 'absolute', left: 0, top: 0, width: 1264, height: 751, background: '#fff', overflow: 'hidden' }}>
      <PlaneChart
        p={PLOT_A}
        control={plane1Control}
        intervention={plane1Intervention}
        xDomain={[0.5626, 0.8697]}
        yDomain={[66.2, 105.9]}
        xTicks={eff1Ticks}
        yTicks={cost1Ticks}
        xFmt={(v) => v.toFixed(2)}
        yFmt={(v) => String(v)}
      />
      <Frame p={PLOT_A} />
      <Title x={344} y={20} text="Cost-effectiveness plane in approach 1" />
      <AxisLabel x={320} y={353} text="Effectiveness" />
      <AxisLabel x={15} y={184} text="Cost" rotate />
      <ScatterLegend left={601} top={183} />

      <CurveChart
        p={PLOT_B}
        interv={accept1Intervention}
        ctrl={accept1Control}
        yDomain={[0, 0.862]}
        yTicks={prob1Ticks}
        yFmt={(v) => v.toFixed(2)}
      />
      <Frame p={PLOT_B} />
      <Title x={967} y={17} text="Acceptability curve in approach 1" />
      <AxisLabel x={950} y={352} text="Willingness to pay" />
      <AxisLabel x={693} y={180} text="Probability of being cost-effective" rotate />
      <LineLegend left={1180} top={180} />

      <PlaneChart
        p={PLOT_C}
        control={plane2Control}
        intervention={plane2Intervention}
        xDomain={[324, 1269]}
        yDomain={[38900, 141800]}
        xTicks={eff2Ticks}
        yTicks={cost2Ticks}
        xFmt={(v) => v.toLocaleString('en-US')}
        yFmt={(v) => v.toLocaleString('en-US')}
      />
      <Frame p={PLOT_C} />
      <Title x={344} y={407} text="Cost-effectiveness plane in approach 2" />
      <AxisLabel x={336} y={741} text="Effectiveness" />
      <AxisLabel x={16} y={570} text="Cost" rotate />
      <ScatterLegend left={607} top={570} />

      <CurveChart
        p={PLOT_D}
        interv={accept2Intervention}
        ctrl={accept2Control}
        yDomain={[0, 1.051]}
        yTicks={prob2Ticks}
        yFmt={(v) => v.toFixed(1)}
      />
      <Frame p={PLOT_D} />
      <Title x={973} y={407} text="Acceptability curve in approach 2" />
      <AxisLabel x={954} y={741} text="Willingness to pay" />
      <AxisLabel x={698} y={570} text="Probability of being cost-effective" rotate />
      <LineLegend left={1186} top={570} />
    </div>
  );
}
